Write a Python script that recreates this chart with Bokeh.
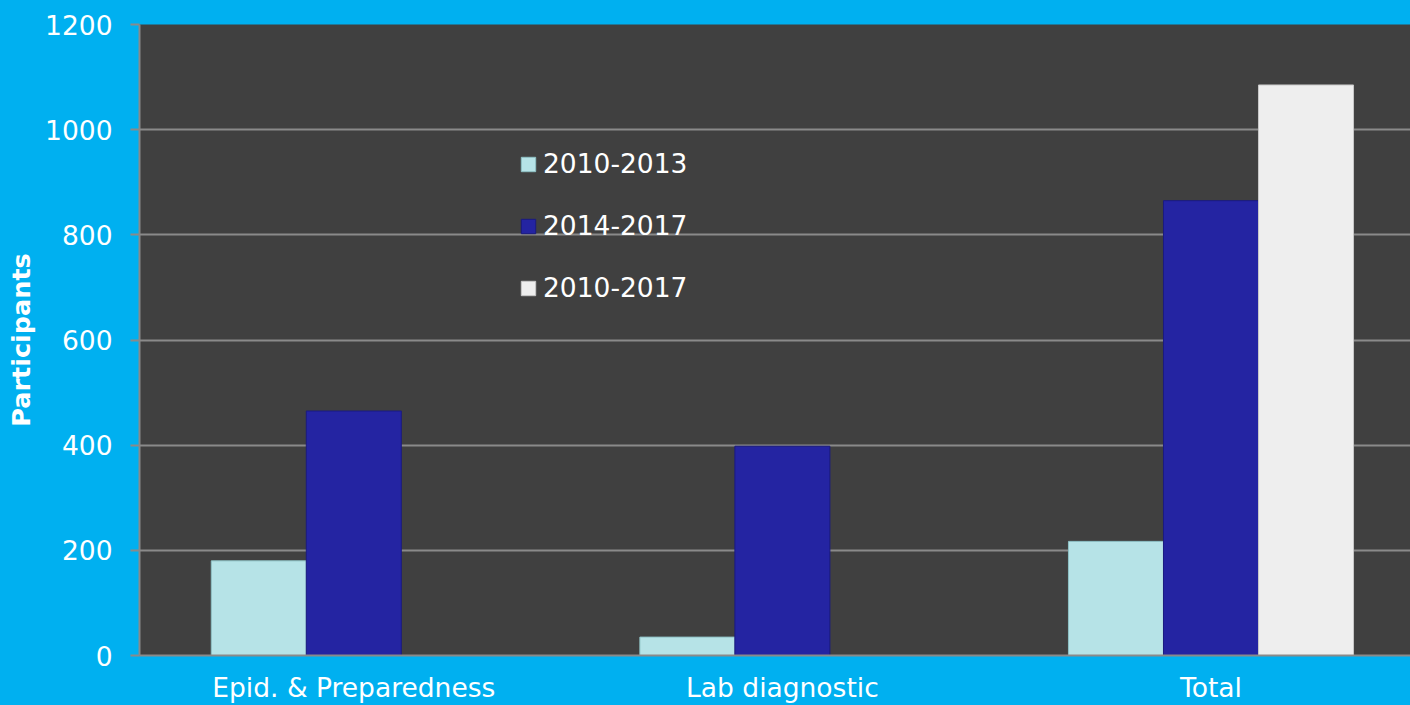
from bokeh.plotting import figure
from bokeh.models import FixedTicker, Legend, LegendItem, Range1d, ColumnDataSource
from bokeh.embed import file_html
from bokeh.resources import INLINE

# ---- data ----
categories = ["Epid. & Preparedness", "Lab diagnostic", "Total"]
series_names = ["2010-2013", "2014-2017", "2010-2017"]
vals_2010_2013 = [180, 35, 217]
vals_2014_2017 = [465, 398, 865]
vals_2010_2017 = [None, None, 1085]
y_ticks = [0, 200, 400, 600, 800, 1000, 1200]

series_values = [vals_2010_2013, vals_2014_2017, vals_2010_2017]
series_colors = ["#B6E3E7", "#2424A2", "#EEEEEE"]
series_lines = ["#8FC2C6", "#1A1A80", "#C8C8C8"]

BG = "#00B0F0"
PLOT_BG = "#404040"
GRID = "#8A8A8A"
FONT = "DejaVu Sans"
FS = "26.5px"

bar_w = 0.2217
offsets = [-bar_w, 0.0, bar_w]

p = figure(width=1410, height=705, output_backend="svg", toolbar_location=None,
           x_range=Range1d(0, 2.9655), y_range=Range1d(0, 1200),
           min_border_left=139, min_border_right=0, min_border_top=24, min_border_bottom=50)
p.background_fill_color = PLOT_BG
p.border_fill_color = BG
p.outline_line_color = None

renderers = []
for name, vals, col, lc, off in zip(series_names, series_values, series_colors, series_lines, offsets):
    xs = [i + 0.5 + off for i, v in enumerate(vals) if v is not None]
    ys = [v for v in vals if v is not None]
    src = ColumnDataSource(dict(x=xs, top=ys))
    r = p.vbar(x="x", top="top", bottom=0, width=bar_w, source=src,
               fill_color=col, line_color=lc, line_width=1)
    renderers.append((name, r))

# axes
p.xaxis.ticker = FixedTicker(ticks=[i + 0.5 for i in range(len(categories))])
p.xaxis.major_label_overrides = {i + 0.5: c for i, c in enumerate(categories)}
p.xaxis.major_tick_line_color = None
p.xaxis.major_tick_out = 0
p.xaxis.major_tick_in = 0
p.xaxis.minor_tick_line_color = None
p.xaxis.axis_line_color = GRID
p.xaxis.axis_line_width = 2
p.xaxis.major_label_text_color = "white"
p.xaxis.major_label_text_font = FONT
p.xaxis.major_label_text_font_size = FS
p.xaxis.major_label_standoff = 16

p.yaxis.ticker = FixedTicker(ticks=y_ticks)
p.yaxis.minor_tick_line_color = None
p.yaxis.major_tick_line_color = GRID
p.yaxis.major_tick_line_width = 2
p.yaxis.major_tick_out = 9
p.yaxis.major_tick_in = 0
p.yaxis.axis_line_color = GRID
p.yaxis.axis_line_width = 2
p.yaxis.major_label_text_color = "white"
p.yaxis.major_label_text_font = FONT
p.yaxis.major_label_text_font_size = FS
p.yaxis.major_label_standoff = 18
p.yaxis.axis_label = "Participants"
p.yaxis.axis_label_text_color = "white"
p.yaxis.axis_label_text_font = FONT
p.yaxis.axis_label_text_font_style = "bold"
p.yaxis.axis_label_text_font_size = "25.5px"
p.yaxis.axis_label_standoff = 6

p.xgrid.grid_line_color = None
p.ygrid.grid_line_color = GRID
p.ygrid.grid_line_width = 2
p.ygrid.ticker = FixedTicker(ticks=y_ticks)

legend = Legend(items=[LegendItem(label=n, renderers=[r]) for n, r in renderers],
                location=(380, 352), orientation="vertical")
legend.background_fill_alpha = 0
legend.border_line_color = None
legend.label_text_color = "white"
legend.label_text_font = FONT
legend.label_text_font_size = FS
legend.glyph_width = 18
legend.glyph_height = 18
legend.label_standoff = 6
legend.spacing = 31
legend.padding = 0
legend.margin = 0
p.add_layout(legend, "center")

html = file_html(p, INLINE)
html = html.replace("<body>", '<body style="margin:0;background:%s">' % BG)
open("out.html", "w").write(html)
